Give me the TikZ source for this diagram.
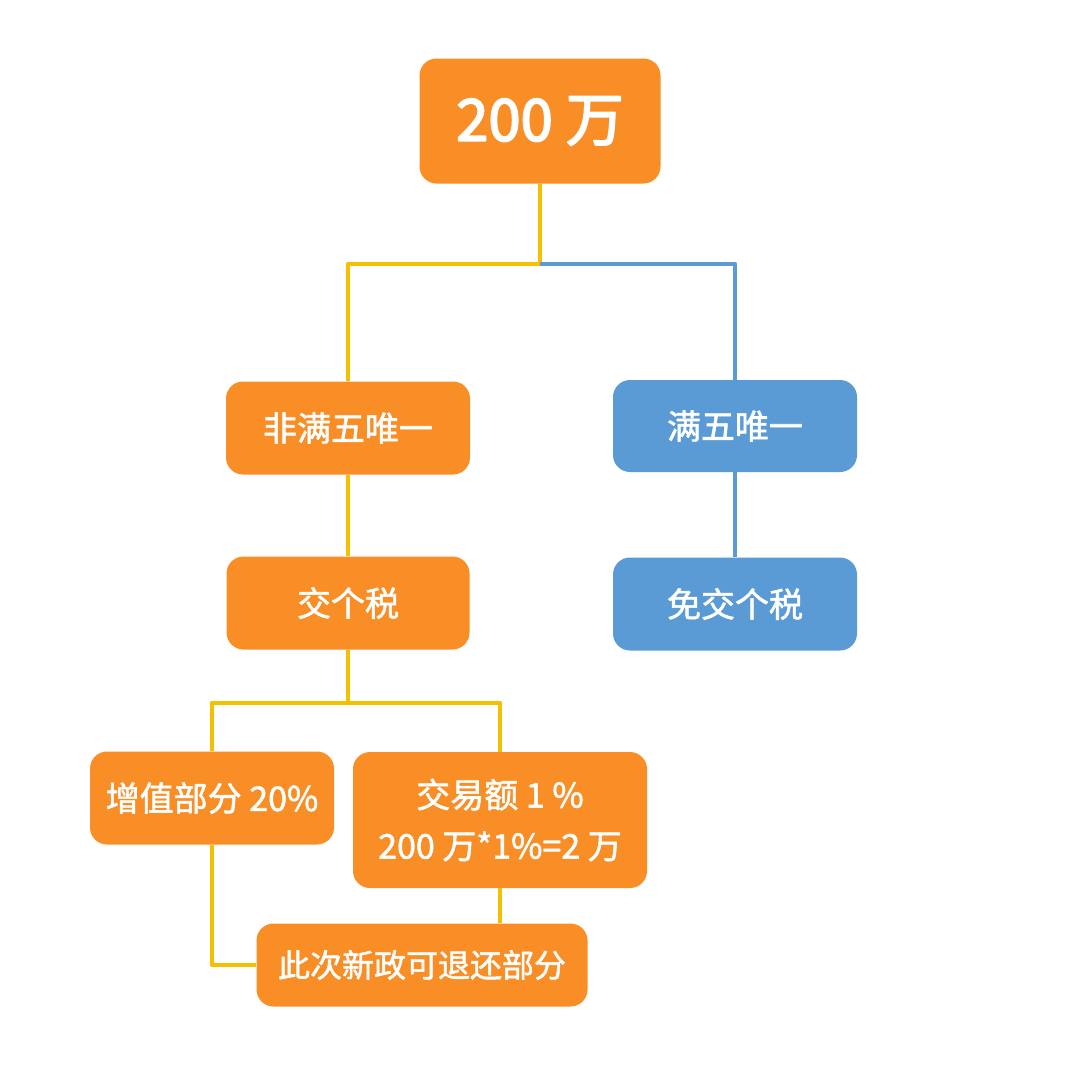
\documentclass[tikz,border=0pt]{standalone}
\usepackage{fontspec}
\newfontfamily\cjk{Noto Sans CJK SC}[FakeBold=1.6]
\newfontfamily\cjkheavy{Noto Sans CJK SC}[FakeBold=3]
\definecolor{boxorange}{RGB}{249,142,39}
\definecolor{boxblue}{RGB}{91,155,213}
\definecolor{lineyellow}{RGB}{245,192,0}
\begin{document}
\begin{tikzpicture}[x=0.5pt,y=-0.5pt,line join=round,
	box/.style={fill=boxorange,text=white,rounded corners=8.5pt,inner sep=0pt,align=center,
		font=\cjk\fontsize{17}{25.5}\selectfont},
	bluebox/.style={box,fill=boxblue},
	yline/.style={draw=lineyellow,line width=2.4pt},
	bline/.style={draw=boxblue,line width=2.4pt}]
	\useasboundingbox (0,0) rectangle (1080,1076);
	\fill[white] (0,0) rectangle (1080,1076);
	% nodes
	\node[box,minimum width=120.5pt,minimum height=62.5pt,font=\cjkheavy\fontsize{29}{34}\selectfont] (total) at (540,121) {200 万};
	\node[box,minimum width=122pt,minimum height=46.5pt] (nonfive) at (348,428) {非满五唯一};
	\node[bluebox,minimum width=122pt,minimum height=46pt] (five) at (735,426) {满五唯一};
	\node[box,minimum width=121.5pt,minimum height=46.5pt] (tax) at (348,603) {交个税};
	\node[bluebox,minimum width=122pt,minimum height=46.5pt] (notax) at (735,604) {免交个税};
	\node[box,minimum width=122pt,minimum height=46.5pt] (gain) at (212,798) {增值部分 20\%};
	\node[box,minimum width=147pt,minimum height=68pt] (deal) at (500,820) {交易额 1 \%\\200 万*1\%=2 万};
	\node[box,minimum width=165.5pt,minimum height=41.5pt,font=\cjk\fontsize{16}{20}\selectfont] (refund) at (422,965) {此次新政可退还部分};
	\coordinate (fork) at (540,264);
	\coordinate (taxfork) at (348,703);
	% connectors
	\draw[yline] (total.south)--(fork)-|(nonfive.north);
	\draw[bline] (fork)-|(five.north);
	\draw[yline] (nonfive.south)--(tax.north);
	\draw[bline] (five.south)--(notax.north);
	\draw[yline] (tax.south)--(taxfork)-|(gain.north);
	\draw[yline] (taxfork)-|(deal.north);
	\draw[yline] (gain.south)|-(refund.west);
	\draw[yline] (deal.south)--(deal.south|-refund.north);
\end{tikzpicture}
\end{document}
